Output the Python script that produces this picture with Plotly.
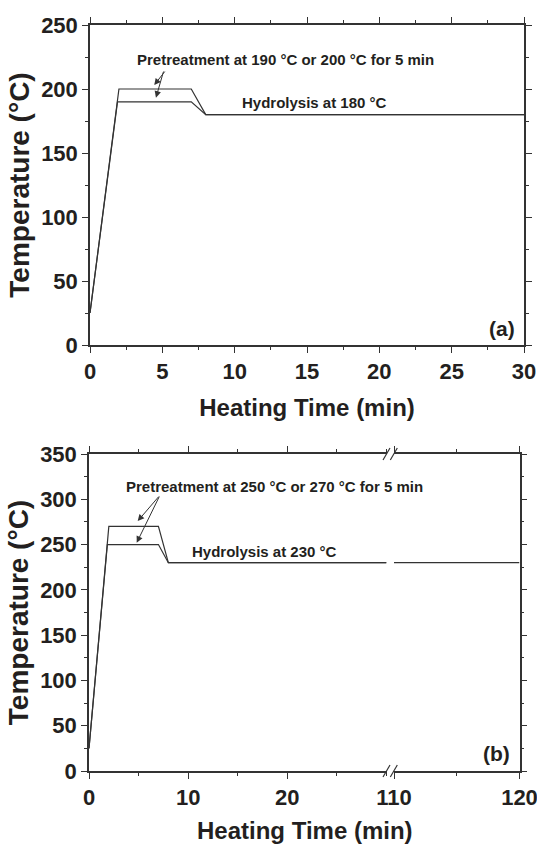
import plotly.graph_objects as go

# ---- data (a) ----
a_time_hi = [0, 2, 7, 8, 30]
a_temp_hi = [25, 200, 200, 180, 180]
a_time_lo = [0, 1.9, 7, 8, 30]
a_temp_lo = [25, 190, 190, 180, 180]

# ---- data (b) ----
b_time_hi = [0, 2, 7, 8, 30]
b_temp_hi = [25, 270, 270, 230, 230]
b_time_lo = [0, 1.85, 7, 8, 30]
b_temp_lo = [25, 250, 250, 230, 230]
b_time_tail = [110, 120]
b_temp_tail = [230, 230]

a_xticks = [0, 5, 10, 15, 20, 25, 30]
a_yticks = [0, 50, 100, 150, 200, 250]
b_xticks_left = [0, 10, 20]
b_xticks_right = [110, 120]
b_yticks = [0, 50, 100, 150, 200, 250, 300, 350]

W, H = 537, 844
FONT = "Liberation Sans, Arial, sans-serif"
TXT = "#231f20"
LINE = "#333333"

def px(v):
    return v / W

def py(v):
    return 1 - v / H

fig = go.Figure()
lw = 1.2
fig.add_trace(go.Scatter(x=a_time_hi, y=a_temp_hi, mode="lines", line=dict(color=LINE, width=lw), xaxis="x", yaxis="y"))
fig.add_trace(go.Scatter(x=a_time_lo, y=a_temp_lo, mode="lines", line=dict(color=LINE, width=lw), xaxis="x", yaxis="y"))
fig.add_trace(go.Scatter(x=b_time_hi, y=b_temp_hi, mode="lines", line=dict(color=LINE, width=lw), xaxis="x2", yaxis="y2"))
fig.add_trace(go.Scatter(x=b_time_lo, y=b_temp_lo, mode="lines", line=dict(color=LINE, width=lw), xaxis="x2", yaxis="y2"))
fig.add_trace(go.Scatter(x=b_time_tail, y=b_temp_tail, mode="lines", line=dict(color=LINE, width=lw), xaxis="x3", yaxis="y3"))

tickfont = dict(family=FONT, size=22, color=TXT, weight="bold")
titlefont = dict(family=FONT, size=24, color=TXT, weight="bold")
ytitlefont = dict(family=FONT, size=28, color=TXT, weight="bold")
common = dict(showline=True, linecolor=LINE, linewidth=1.5, ticks="outside", ticklen=6,
              tickwidth=1.3, tickcolor=LINE, showgrid=False, zeroline=False,
              tickfont=tickfont, automargin=False, ticklabeloverflow="allow")

fig.update_layout(
    width=W, height=H, margin=dict(l=0, r=0, t=0, b=0),
    paper_bgcolor="white", plot_bgcolor="white", showlegend=False,
    xaxis=dict(domain=[px(90), px(524)], range=[0, 30], tickvals=a_xticks, anchor="y",
               mirror="ticks", minor=dict(dtick=2.5, ticklen=3, ticks="outside", tickcolor=LINE),
               title=dict(text="Heating Time (min)", font=titlefont, standoff=16), **common),
    yaxis=dict(domain=[py(345), py(25)], range=[0, 250], tickvals=a_yticks, anchor="x",
               mirror="ticks", minor=dict(dtick=25, ticklen=3, ticks="outside", tickcolor=LINE),
               title=dict(text="Temperature (°C)", font=ytitlefont, standoff=3), **common),
    xaxis2=dict(domain=[px(89), px(386.5)], range=[0, 30], tickvals=b_xticks_left, anchor="y2",
                mirror="ticks", minor=dict(dtick=5, ticklen=3, ticks="outside", tickcolor=LINE),
                **common),
    xaxis3=dict(domain=[px(394), px(519.5)], range=[110, 120], tickvals=b_xticks_right, anchor="y3",
                mirror="ticks", minor=dict(dtick=5, ticklen=3, ticks="outside", tickcolor=LINE),
                **common),
    yaxis2=dict(domain=[py(771), py(454)], range=[0, 350], tickvals=b_yticks, anchor="x2",
                minor=dict(dtick=25, ticklen=3, ticks="outside", tickcolor=LINE),
                title=dict(text="Temperature (°C)", font=ytitlefont, standoff=3), **common),
    yaxis3=dict(domain=[py(771), py(454)], range=[0, 350], tickvals=b_yticks, anchor="x3",
                side="right", showticklabels=False, matches="y2",
                minor=dict(dtick=25, ticklen=3, ticks="outside", tickcolor=LINE), **common),
)

# bottom x title as annotation centred under panel (b)
fig.add_annotation(text="Heating Time (min)", xref="paper", yref="paper", x=px(305), y=py(830),
                   showarrow=False, font=titlefont, xanchor="center", yanchor="middle")

afont = dict(family=FONT, size=15, color=TXT, weight="bold")
fig.add_annotation(text="Pretreatment at 190 °C or 200 °C for 5 min", x=13.5, y=223.4, xref="x", yref="y",
                   showarrow=False, font=afont)
fig.add_annotation(text="Hydrolysis at 180 °C", x=15.5, y=189.3, xref="x", yref="y", showarrow=False, font=afont)
fig.add_annotation(text="Pretreatment at 250 °C or 270 °C for 5 min", x=18.75, y=314.6, xref="x2", yref="y2",
                   showarrow=False, font=afont)
fig.add_annotation(text="Hydrolysis at 230 °C", x=17.7, y=242.8, xref="x2", yref="y2", showarrow=False, font=afont)

arrow = dict(showarrow=True, arrowhead=2, arrowsize=1.3, arrowwidth=1, arrowcolor=LINE, text="", standoff=0)
fig.add_annotation(x=4.44, y=203.1, ax=5.25, ay=214.8, xref="x", yref="y", axref="x", ayref="y", **arrow)
fig.add_annotation(x=4.56, y=193.2, ax=5.11, ay=214.8, xref="x", yref="y", axref="x", ayref="y", **arrow)
fig.add_annotation(x=4.91, y=275.9, ax=7.16, ay=304.6, xref="x2", yref="y2", axref="x2", ayref="y2", **arrow)
fig.add_annotation(x=4.81, y=252.0, ax=7.16, ay=304.6, xref="x2", yref="y2", axref="x2", ayref="y2", **arrow)

lfont = dict(family=FONT, size=21, color=TXT, weight="bold")
fig.add_annotation(text="(a)", xref="paper", yref="paper", x=px(517), y=py(328), xanchor="right",
                   yanchor="middle", showarrow=False, font=lfont)
fig.add_annotation(text="(b)", xref="paper", yref="paper", x=px(512), y=py(753), xanchor="right",
                   yanchor="middle", showarrow=False, font=lfont)

# axis-break marks
for yc in (454, 771):
    for xc in (386.5, 393.8):
        fig.add_shape(type="line", xref="paper", yref="paper",
                      x0=px(xc - 3.5), y0=py(yc + 6), x1=px(xc + 3.5), y1=py(yc - 6),
                      line=dict(color=LINE, width=1.2))

fig.write_html("out.html", config={"displayModeBar": False},
               post_script="document.body.style.margin='0';document.body.style.overflow='hidden';")
